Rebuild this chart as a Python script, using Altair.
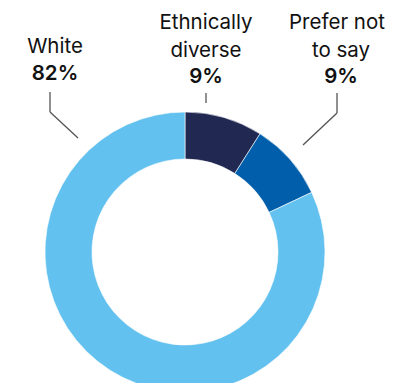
import altair as alt
import pandas as pd

categories = ["Ethnically diverse", "Prefer not to say", "White"]
values = [9, 9, 82]
colors = ["#212952", "#005EAA", "#62C1EE"]

df = pd.DataFrame({"category": categories, "value": values, "order": [0, 1, 2]})

FONT = "Inter"
CX, CY = 177, 244

arc = alt.Chart(df).mark_arc(radius=140, innerRadius=93, stroke="white", strokeWidth=0.6).encode(
    theta=alt.Theta("value:Q", stack=True),
    order=alt.Order("order:Q"),
    color=alt.Color("category:N", scale=alt.Scale(domain=categories, range=colors), legend=None),
    x=alt.value(CX),
    y=alt.value(CY),
)

def txt(s, x, y, bold=False):
    return alt.Chart(pd.DataFrame({"t": [s]})).mark_text(
        font=FONT, fontSize=20.5, fontWeight=600 if bold else 400,
        color="#111111", align="center", baseline="alphabetic"
    ).encode(text="t:N", x=alt.value(x), y=alt.value(y))

def seg(x1, y1, x2, y2):
    return alt.Chart(pd.DataFrame({"a": [0]})).mark_rule(color="#555555", strokeWidth=1.3).encode(
        x=alt.value(x1), y=alt.value(y1), x2=alt.value(x2), y2=alt.value(y2)
    )

labels = [
    txt("White", 47, 45), txt(f"{values[2]}%", 47, 72, True),
    txt("Ethnically", 198, 21), txt("diverse", 198, 49), txt(f"{values[0]}%", 198, 75, True),
    txt("Prefer not", 329, 21), txt("to say", 333, 49), txt(f"{values[1]}%", 333, 75, True),
]
lines = [
    seg(42, 84, 42, 104), seg(42, 104, 70, 130),
    seg(198, 85, 198, 95),
    seg(329, 85, 329, 105), seg(329, 105, 295, 137),
]

chart = alt.layer(arc, *lines, *labels).properties(
    width=379, height=375, padding=0, autosize=alt.AutoSizeParams(type="none")
).configure_view(stroke=None)

chart.save("out.html", embed_options={"renderer": "svg", "actions": False})
